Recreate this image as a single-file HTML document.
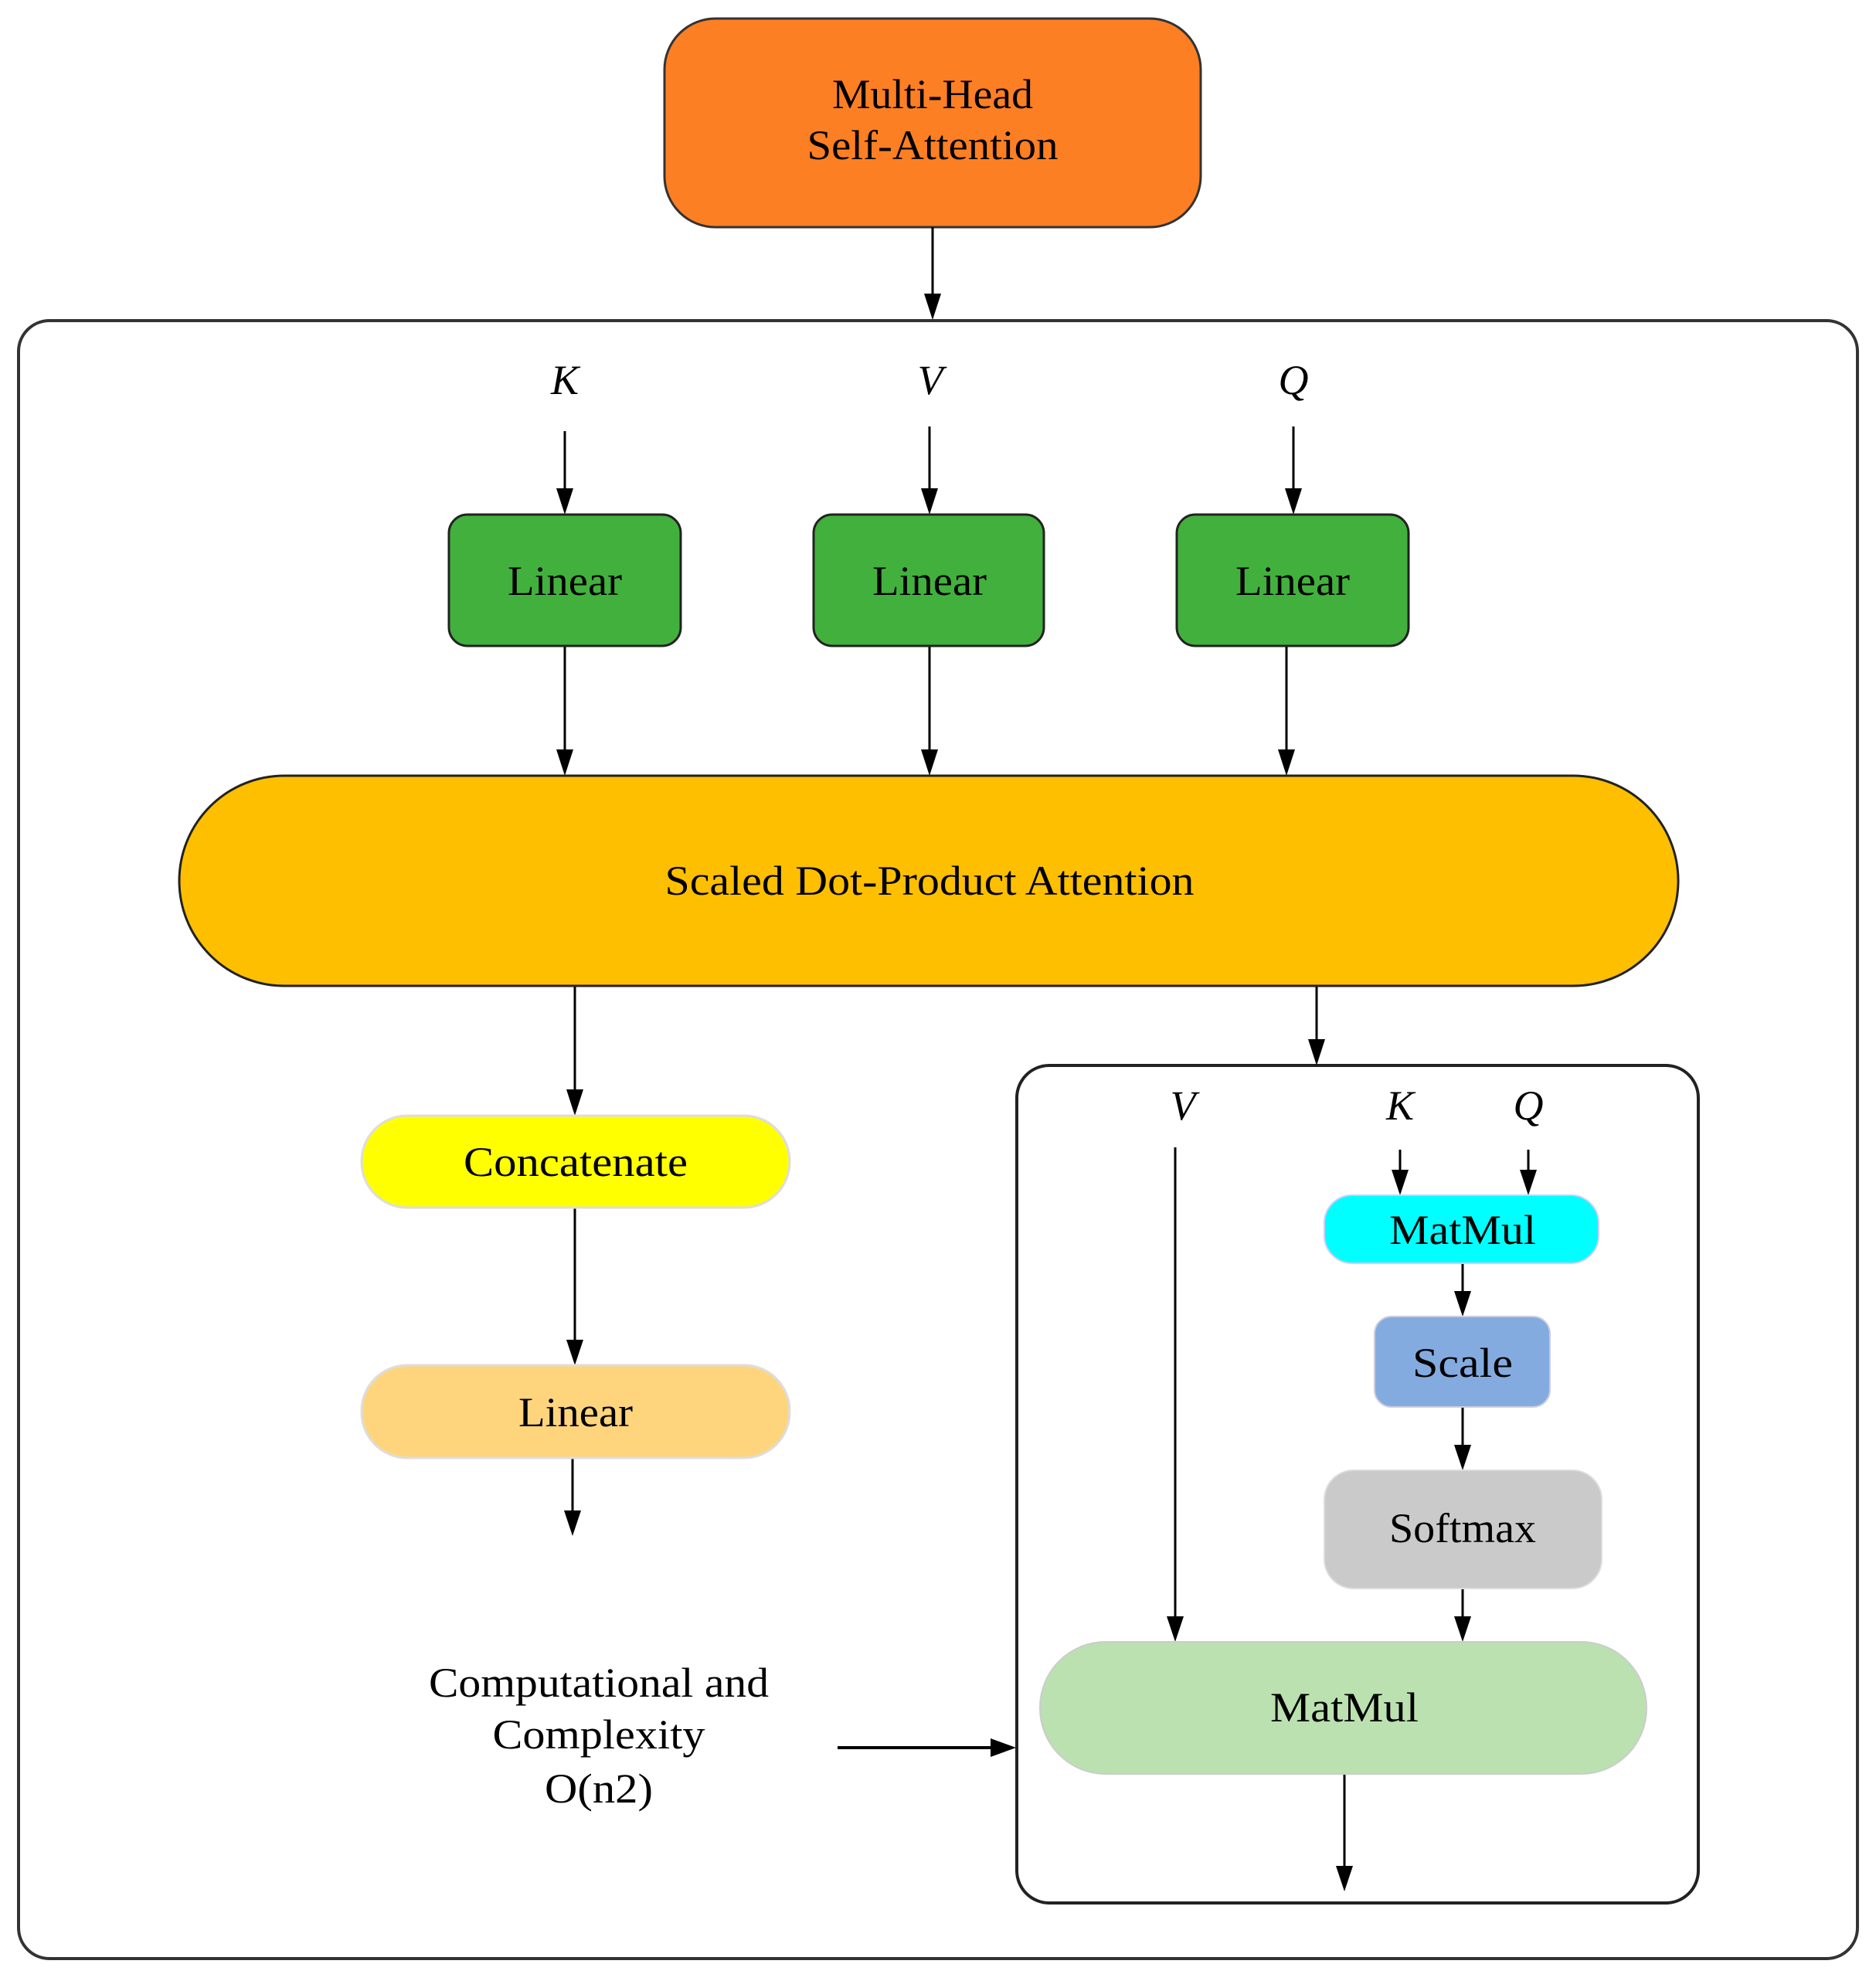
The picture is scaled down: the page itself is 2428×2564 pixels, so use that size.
<!DOCTYPE html>
<html><head><meta charset="utf-8"><style>
html,body{margin:0;padding:0;background:#fff;}
svg{display:block;}
text{font-family:"Liberation Serif",serif;fill:#000;}
</style></head><body>
<svg width="2428" height="2564" viewBox="0 0 2428 2564" xmlns="http://www.w3.org/2000/svg">
<defs>
<marker id="a" markerWidth="22" markerHeight="34" refX="11" refY="34" orient="auto-start-reverse" markerUnits="userSpaceOnUse" viewBox="0 0 22 34">
<path d="M0,0 L22,0 L11,34 Z" fill="#000" transform="rotate(0)"/>
</marker>
</defs>
<style>
.l{stroke:#000;stroke-width:3;fill:none;}
.t{font-size:54px;text-anchor:middle;}
.i{font-size:54px;font-style:italic;text-anchor:middle;}
</style>
<!-- outer boxes -->
<rect x="24" y="415" width="2380" height="2120" rx="40" fill="#fff" stroke="#333" stroke-width="4"/>
<rect x="1316" y="1379" width="882" height="1084" rx="42" fill="none" stroke="#222" stroke-width="4"/>

<!-- top node -->
<rect x="860" y="24" width="694" height="270" rx="66" fill="#fd7f24" stroke="#333" stroke-width="3"/>
<text class="t" x="1207" y="140" textLength="260" lengthAdjust="spacingAndGlyphs">Multi-Head</text>
<text class="t" x="1207" y="206" textLength="325" lengthAdjust="spacingAndGlyphs">Self-Attention</text>

<!-- arrows -->
<g class="l">
<line x1="1207" y1="294" x2="1207" y2="380"/>
<line x1="731" y1="558" x2="731" y2="632"/>
<line x1="1203" y1="552" x2="1203" y2="632"/>
<line x1="1674" y1="552" x2="1674" y2="632"/>
<line x1="731" y1="836" x2="731" y2="970"/>
<line x1="1203" y1="836" x2="1203" y2="970"/>
<line x1="1665" y1="836" x2="1665" y2="970"/>
<line x1="744" y1="1276" x2="744" y2="1410"/>
<line x1="1704" y1="1276" x2="1704" y2="1345"/>
<line x1="744" y1="1563" x2="744" y2="1734"/>
<line x1="741" y1="1887" x2="741" y2="1955"/>
<line x1="1812" y1="1488" x2="1812" y2="1514"/>
<line x1="1978" y1="1488" x2="1978" y2="1514"/>
<line x1="1521" y1="1485" x2="1521" y2="2092"/>
<line x1="1893" y1="1635" x2="1893" y2="1671"/>
<line x1="1893" y1="1821" x2="1893" y2="1870"/>
<line x1="1893" y1="2056" x2="1893" y2="2092"/>
<line x1="1740" y1="2296" x2="1740" y2="2415"/>
<line x1="1084" y1="2262" x2="1282" y2="2262" stroke-width="4"/>
</g>
<g fill="#000">
<path d="M1196,380 L1218,380 L1207,414 Z"/>
<path d="M720,632 L742,632 L731,666 Z"/>
<path d="M1192,632 L1214,632 L1203,666 Z"/>
<path d="M1663,632 L1685,632 L1674,666 Z"/>
<path d="M720,970 L742,970 L731,1004 Z"/>
<path d="M1192,970 L1214,970 L1203,1004 Z"/>
<path d="M1654,970 L1676,970 L1665,1004 Z"/>
<path d="M733,1410 L755,1410 L744,1444 Z"/>
<path d="M1693,1345 L1715,1345 L1704,1379 Z"/>
<path d="M733,1734 L755,1734 L744,1767 Z"/>
<path d="M730,1955 L752,1955 L741,1988 Z"/>
<path d="M1801,1514 L1823,1514 L1812,1547 Z"/>
<path d="M1967,1514 L1989,1514 L1978,1547 Z"/>
<path d="M1510,2092 L1532,2092 L1521,2125 Z"/>
<path d="M1882,1671 L1904,1671 L1893,1704 Z"/>
<path d="M1882,1870 L1904,1870 L1893,1903 Z"/>
<path d="M1882,2092 L1904,2092 L1893,2125 Z"/>
<path d="M1729,2415 L1751,2415 L1740,2448 Z"/>
<path d="M1282,2250 L1282,2274 L1315,2262 Z"/>
</g>

<!-- K V Q -->
<text class="i" x="731" y="510">K</text>
<text class="i" x="1204" y="510">V</text>
<text class="i" x="1674" y="510">Q</text>

<!-- Linear green -->
<rect x="581" y="666" width="300" height="170" rx="24" fill="#42b03d" stroke="#222" stroke-width="3"/>
<rect x="1053" y="666" width="298" height="170" rx="24" fill="#42b03d" stroke="#222" stroke-width="3"/>
<rect x="1523" y="666" width="300" height="170" rx="24" fill="#42b03d" stroke="#222" stroke-width="3"/>
<text class="t" x="731" y="770" textLength="148" lengthAdjust="spacingAndGlyphs">Linear</text>
<text class="t" x="1203" y="770" textLength="148" lengthAdjust="spacingAndGlyphs">Linear</text>
<text class="t" x="1673" y="770" textLength="148" lengthAdjust="spacingAndGlyphs">Linear</text>

<!-- Scaled dot product -->
<rect x="232" y="1004" width="1940" height="272" rx="136" fill="#fdbf00" stroke="#222" stroke-width="3"/>
<text class="t" x="1203" y="1158" textLength="685" lengthAdjust="spacingAndGlyphs">Scaled Dot-Product Attention</text>

<!-- Concatenate / Linear -->
<rect x="468" y="1444" width="554" height="119" rx="59" fill="#ffff00" stroke="#ddd" stroke-width="3"/>
<text class="t" x="745" y="1522" textLength="290" lengthAdjust="spacingAndGlyphs">Concatenate</text>
<rect x="468" y="1767" width="554" height="120" rx="59" fill="#fed57c" stroke="#ddd" stroke-width="3"/>
<text class="t" x="745" y="1846" textLength="148" lengthAdjust="spacingAndGlyphs">Linear</text>

<!-- inner labels -->
<text class="i" x="1531" y="1449">V</text>
<text class="i" x="1812" y="1449">K</text>
<text class="i" x="1978" y="1449">Q</text>

<rect x="1714" y="1547" width="355" height="88" rx="36" fill="#00ffff" stroke="#ccf" stroke-width="2"/>
<text class="t" x="1893" y="1610" textLength="190" lengthAdjust="spacingAndGlyphs">MatMul</text>
<rect x="1779" y="1704" width="227" height="117" rx="22" fill="#84abe0" stroke="#ccd" stroke-width="2"/>
<text class="t" x="1893" y="1782" textLength="130" lengthAdjust="spacingAndGlyphs">Scale</text>
<rect x="1714" y="1903" width="359" height="153" rx="38" fill="#cacaca" stroke="#ddd" stroke-width="2"/>
<text class="t" x="1893" y="1996" textLength="190" lengthAdjust="spacingAndGlyphs">Softmax</text>
<rect x="1346" y="2125" width="785" height="171" rx="85" fill="#bbe1b0" stroke="#ccc" stroke-width="2"/>
<text class="t" x="1740" y="2228" textLength="192" lengthAdjust="spacingAndGlyphs">MatMul</text>

<!-- side text -->
<text class="t" x="775" y="2196" textLength="440" lengthAdjust="spacingAndGlyphs">Computational and</text>
<text class="t" x="775" y="2263" textLength="275" lengthAdjust="spacingAndGlyphs">Complexity</text>
<text class="t" x="775" y="2333" textLength="140" lengthAdjust="spacingAndGlyphs">O(n2)</text>
</svg>
</body></html>
